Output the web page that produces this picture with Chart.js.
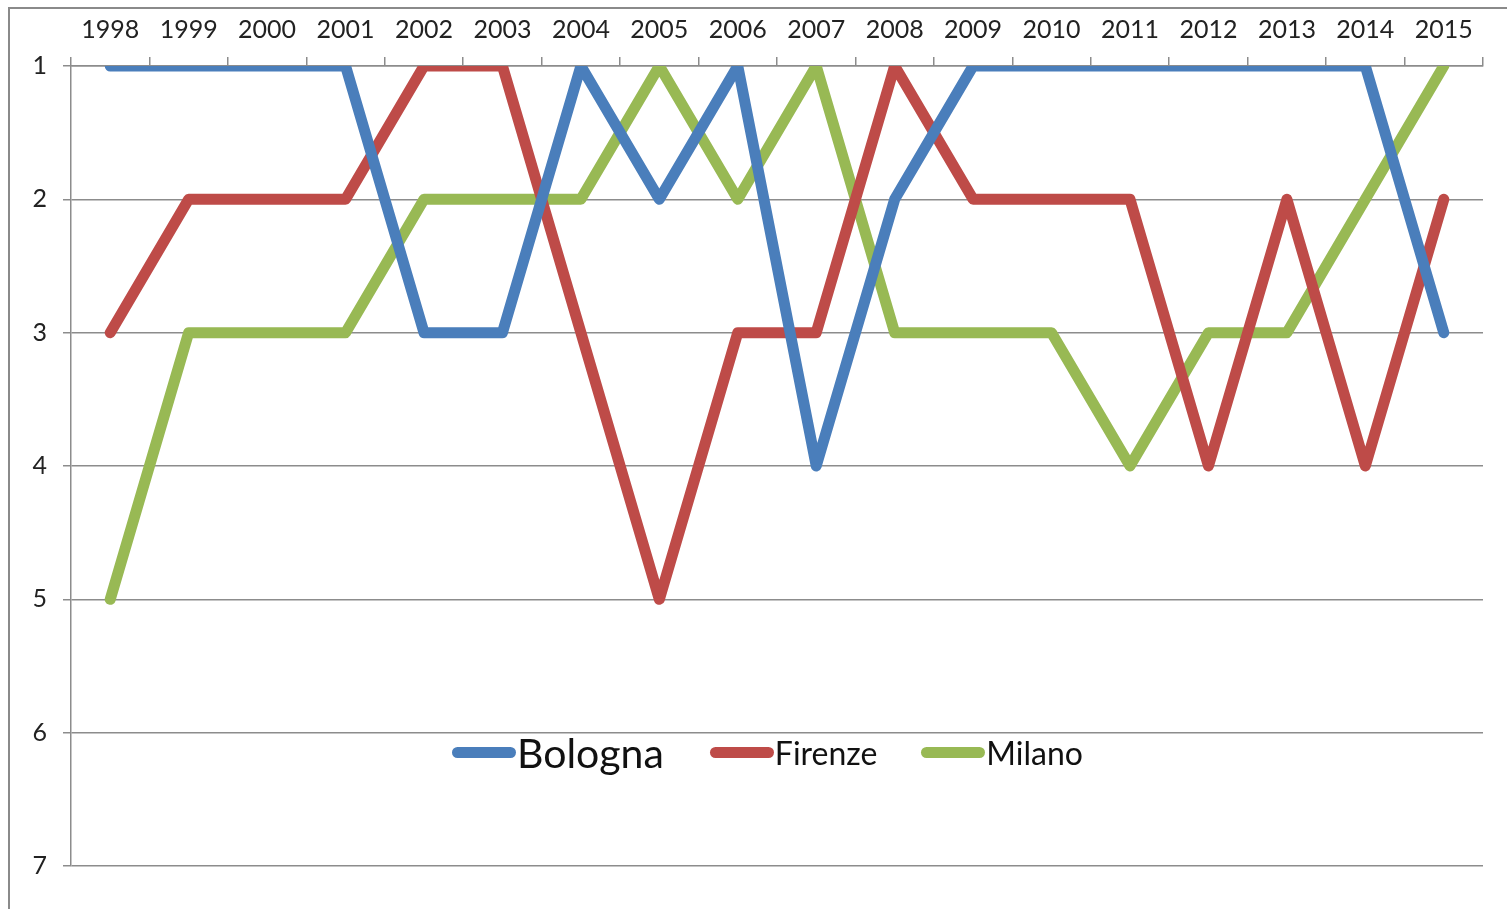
<!DOCTYPE html>
<html>
<head>
<meta charset="utf-8">
<script src="https://cdn.jsdelivr.net/npm/chart.js@4/dist/chart.umd.min.js"></script>
<style>
  html, body { margin: 0; padding: 0; background: #fff; }
  #wrap { position: relative; width: 1507px; height: 909px; overflow: hidden; }
  #frame { position: absolute; left: 8px; top: 7px; right: -10px; bottom: -10px;
           border-left: 2px solid #8a8a8a; border-top: 2px solid #8a8a8a; }
  #grafico { position: absolute; left: 0; top: 0; }
  #legenda { position: absolute; left: 452px; top: 728px; height: 48px;
             display: flex; align-items: center; font-family: Lato, sans-serif; color: #111; }
  .item { display: flex; align-items: center; }
  .amostra { display: inline-block; width: 64px; height: 11px; border-radius: 6px; margin-right: 1px; }
</style>
</head>
<body>
<div id="wrap">
  <div id="frame"></div>
  <canvas id="grafico" width="1507" height="909"></canvas>
  <div id="legenda"></div>
</div>
<script>
    const anos = ['1998','1999','2000','2001','2002','2003','2004','2005','2006','2007','2008','2009','2010','2011','2012','2013','2014','2015'];
    const bologna = [1,1,1,1,3,3,1,2,1,4,2,1,1,1,1,1,1,3];
    const firenze = [3,2,2,2,1,1,3,5,3,3,1,2,2,2,4,2,4,2];
    const milano  = [5,3,3,3,2,2,2,1,2,1,3,3,3,4,3,3,2,1];
    const posicoes = [1,2,3,4,5,6,7];

    const series = [
      { nome: 'Bologna', dados: bologna, cor: '#4a7ebb', fonte: 41, gap: 46 },
      { nome: 'Firenze', dados: firenze, cor: '#be4b48', fonte: 32, gap: 44 },
      { nome: 'Milano',  dados: milano,  cor: '#98b954', fonte: 32, gap: 0 }
    ];

    // legenda em HTML (tamanhos de fonte diferentes)
    const leg = document.getElementById('legenda');
    series.forEach(s => {
      const div = document.createElement('div');
      div.className = 'item';
      div.style.marginRight = s.gap + 'px';
      div.innerHTML = `<span class="amostra" style="background:${s.cor}"></span><span style="font-size:${s.fonte}px">${s.nome}</span>`;
      leg.appendChild(div);
    });

    const ctx = document.getElementById('grafico').getContext('2d');
    const chart = new Chart(ctx, {
      type: 'line',
      data: {
        labels: anos,
        datasets: series.map(s => ({
          label: s.nome, data: s.dados, borderColor: s.cor, backgroundColor: s.cor,
          borderWidth: 11, borderJoinStyle: 'round', borderCapStyle: 'round',
          pointRadius: 0, tension: 0, clip: 0
        }))
      },
      options: {
        responsive: false, animation: false,
        layout: { padding: { top: 0, left: 0, right: 24, bottom: 43 } },
        plugins: { legend: { display: false }, tooltip: { enabled: false } },
        scales: {
          x: {
            position: 'top', offset: true,
            grid: { offset: true, drawOnChartArea: false, drawTicks: true, tickLength: 9, color: '#8c8c8c', lineWidth: 1.5 },
            border: { display: true, color: '#8c8c8c', width: 1.5 },
            ticks: { color: '#222', font: { family: 'Lato', size: 25 }, padding: 12, maxRotation: 0, autoSkip: false },
            afterFit: scale => { scale.height = 66; }
          },
          y: {
            reverse: true, min: 1, max: 7,
            afterBuildTicks: scale => { scale.ticks = posicoes.map(v => ({ value: v })); },
            grid: { color: '#8c8c8c', lineWidth: 1.5, tickLength: 8 },
            border: { display: true, color: '#8c8c8c', width: 1.5 },
            ticks: { color: '#222', font: { family: 'Lato', size: 25 }, padding: 16 },
            afterFit: scale => { scale.width = 71; }
          }
        }
      }
    });
</script>
</body>
</html>
